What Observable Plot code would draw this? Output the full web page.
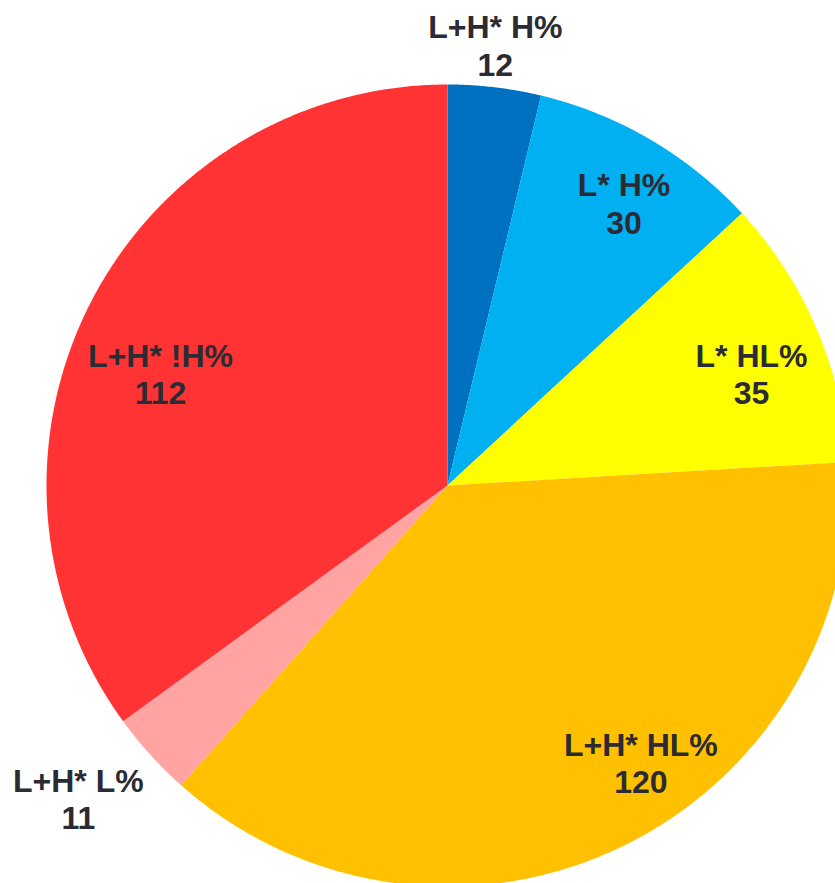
<!DOCTYPE html>
<html>
<head>
<meta charset="utf-8">
<script src="https://cdn.jsdelivr.net/npm/d3@7"></script>
<script src="https://cdn.jsdelivr.net/npm/@observablehq/plot@0.6"></script>
<style>
  html, body { margin: 0; padding: 0; background: #ffffff; }
  #chart svg { display: block; }
</style>
</head>
<body>
<div id="chart"></div>
<script>
// ---- Data (clockwise from 12 o'clock) ----
const categories = ["L+H* H%", "L* H%", "L* HL%", "L+H* HL%", "L+H* L%", "L+H* !H%"];
const counts = [12, 30, 35, 120, 11, 112];
const colors = ["#0070C0", "#00B0F0", "#FFFF00", "#FFC000", "#FFA3A3", "#FF3333"];

// ---- Layout ----
const W = 835, H = 883;
const cx = 447, cy = 485, R = 401;
// label placement: [angle in degrees clockwise from 12 o'clock, distance from centre]
const labelPolar = [[6.2, 443], [32.0, 333], [69.8, 324], [145.1, 338], [229.7, 484], [291.3, 308]];

const pie = d3.pie().sort(null).value(d => d.value)(
  categories.map((c, i) => ({category: c, value: counts[i], color: colors[i]}))
);

// polygon vertices for each slice (x right, y up, centre at 0,0)
const polys = [];
pie.forEach((p, i) => {
  const n = Math.max(2, Math.ceil((p.endAngle - p.startAngle) / 0.005));
  polys.push({category: p.data.category, x: 0, y: 0});
  for (let k = 0; k <= n; k++) {
    const a = p.startAngle + (p.endAngle - p.startAngle) * k / n;
    polys.push({category: p.data.category, x: R * Math.sin(a), y: R * Math.cos(a)});
  }
  polys.push({category: p.data.category, x: 0, y: 0});
});

const labels = pie.map((p, i) => {
  const a = labelPolar[i][0] * Math.PI / 180, r = labelPolar[i][1];
  return {text: `${p.data.category}\n${p.data.value}`, x: r * Math.sin(a), y: r * Math.cos(a)};
});

const chart = Plot.plot({
  width: W,
  height: H,
  margin: 0,
  x: {domain: [-cx, W - cx], range: [0, W], axis: null},
  y: {domain: [cy - H, cy], range: [H, 0], axis: null},
  color: {domain: categories, range: colors},
  style: {background: "#ffffff"},
  marks: [
    Plot.line(polys, {x: "x", y: "y", z: "category", fill: "category", stroke: "none", curve: "linear"}),
    Plot.text(labels, {
      x: "x", y: "y", text: "text",
      fontSize: 32, fontWeight: "bold", fontFamily: "Liberation Sans, Arial, sans-serif",
      fill: "#2b2b33", lineHeight: 1.16, textAnchor: "middle"
    })
  ]
});
document.getElementById("chart").appendChild(chart);
</script>
</body>
</html>
